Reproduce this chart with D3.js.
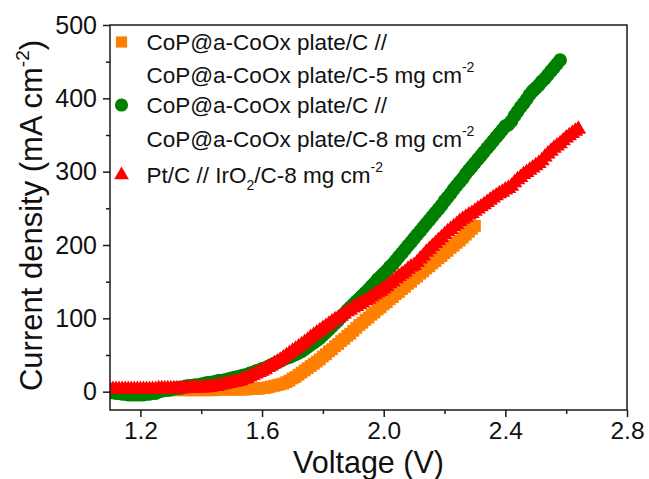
<!DOCTYPE html>
<html>
<head>
<meta charset="utf-8">
<script src="https://cdn.jsdelivr.net/npm/d3@7/dist/d3.min.js"></script>
<style>
  html, body { margin: 0; padding: 0; background: #fff; }
  svg { display: block; font-family: "Liberation Sans", Arial, sans-serif; }
</style>
</head>
<body>
<svg id="chart" width="649" height="479"></svg>
<script>
// ---- data ----
const voltage = [
  1.10,1.11,1.12,1.13,1.14,1.15,1.16,1.17,1.18,1.19,
  1.20,1.21,1.22,1.23,1.24,1.25,1.26,1.27,1.28,1.29,
  1.30,1.31,1.32,1.33,1.34,1.35,1.36,1.37,1.38,1.39,
  1.40,1.41,1.42,1.43,1.44,1.45,1.46,1.47,1.48,1.49,
  1.50,1.51,1.52,1.53,1.54,1.55,1.56,1.57,1.58,1.59,
  1.60,1.61,1.62,1.63,1.64,1.65,1.66,1.67,1.68,1.69,
  1.70,1.71,1.72,1.73,1.74,1.75,1.76,1.77,1.78,1.79,
  1.80,1.81,1.82,1.83,1.84,1.85,1.86,1.87,1.88,1.89,
  1.90,1.91,1.92,1.93,1.94,1.95,1.96,1.97,1.98,1.99,
  2.00,2.01,2.02,2.03,2.04,2.05,2.06,2.07,2.08,2.09,
  2.10,2.11,2.12,2.13,2.14,2.15,2.16,2.17,2.18,2.19,
  2.20,2.21,2.22,2.23,2.24,2.25,2.26,2.27,2.28,2.29,
  2.30,2.31,2.32,2.33,2.34,2.35,2.36,2.37,2.38,2.39,
  2.40,2.41,2.42,2.43,2.44,2.45,2.46,2.47,2.48,2.49,
  2.50,2.51,2.52,2.53,2.54,2.55,2.56,2.57,2.58,2.59,
  2.60,2.61,2.62,2.63,2.64
];
// CoP@a-CoOx plate/C // ... -5 mg cm-2 (orange squares), 1.10 – 2.30 V
const orangeVals = [
  2,2,2,2,2,2,2,2,2,2,
  2,2,2,2,2,2,2,2,2,2,
  2,2,2,2,2,2,2,2,2,2,
  2,2,2,2,2,3,3,3,3,3,
  3,3,3,3,3,3,4,4,4,4,
  5,5,6,7,8,9,10,11,13,15,
  18,20,23,26,29,32,35,38,41,44,
  48,51,55,58,62,65,69,72,76,79,
  83,87,91,94,98,101,105,108,112,115,
  119,122,126,129,133,136,140,143,147,150,
  154,157,161,164,168,171,175,178,182,185,
  189,192,196,199,203,206,210,214,218,222,
  226
];
// CoP@a-CoOx plate/C // ... -8 mg cm-2 (green circles), 1.10 – 2.58 V
const greenVals = [
  -1,-1,-2,-2,-3,-3,-4,-4,-4,-4,
  -4,-4,-3,-3,-2,-2,0,1,2,2,
  3,4,5,5,6,7,8,8,9,9,
  10,11,12,12,13,14,15,15,16,17,
  18,19,20,21,22,23,25,26,28,29,
  31,32,34,36,38,40,42,44,46,47,
  49,51,53,55,58,61,64,67,70,73,
  77,81,85,89,93,97,102,106,111,115,
  119,123,127,131,135,139,144,148,153,157,
  161,165,170,174,179,184,189,194,199,204,
  209,214,219,224,229,234,239,244,249,254,
  260,265,270,276,281,286,291,297,302,307,
  312,317,322,327,332,337,342,347,352,357,
  362,364,369,376,382,388,393,399,405,410,
  414,418,423,427,432,437,442,447,452
];
// Pt/C // IrO2/C-8 mg cm-2 (red triangles), 1.10 – 2.64 V
const redVals = [
  3,3,3,3,3,3,3,3,3,3,
  3,3,3,3,3,3,4,4,4,4,
  4,4,4,4,4,5,5,5,5,5,
  5,5,6,6,7,7,8,9,10,11,
  12,13,14,15,17,18,20,22,24,26,
  28,30,33,35,38,40,43,46,49,52,
  55,58,61,64,67,70,74,77,80,83,
  86,89,92,95,98,100,103,106,109,111,
  114,116,119,121,124,126,129,132,135,137,
  140,143,147,150,154,157,160,163,167,170,
  172,176,181,185,190,194,198,202,206,210,
  214,218,221,225,228,232,235,238,241,243,
  246,249,252,255,258,261,264,267,270,272,
  275,277,280,285,289,292,296,299,302,305,
  308,311,315,320,324,328,332,335,338,342,
  346,349,352,355,358
];
const xTicks = [1.2, 1.6, 2.0, 2.4, 2.8];
const xMinorTicks = [1.4, 1.8, 2.2, 2.6];
const yTicks = [0, 100, 200, 300, 400, 500];
const yMinorTicks = [50, 150, 250, 350, 450];

const seriesNames = ["orange", "green", "red"];

// ---- layout ----
const svg = d3.select("#chart");
const L = 110, R = 627, T = 25, B = 410;
const x = d3.scaleLinear().domain([1.1, 2.8]).range([L, R]);
const y = d3.scaleLinear().domain([-25, 500]).range([B, T]);

const styles = {
  orange: { color: "#FF8000", symbol: d3.symbolSquare, size: 140 },
  green:  { color: "#008000", symbol: d3.symbolCircle, size: 150 },
  red:    { color: "#FF0000", symbol: d3.symbolTriangle, size: 105 }
};
const valuesBy = { orange: orangeVals, green: greenVals, red: redVals };

svg.append("clipPath").attr("id", "clip")
  .append("rect").attr("x", L).attr("y", T).attr("width", R - L).attr("height", B - T);

const plot = svg.append("g").attr("clip-path", "url(#clip)");
seriesNames.forEach(name => {
  const st = styles[name];
  const pts = valuesBy[name].map((v, i) => [voltage[i], v]);
  const sym = d3.symbol().type(st.symbol).size(st.size);
  plot.append("g").selectAll("path").data(pts).join("path")
    .attr("d", sym)
    .attr("transform", d => `translate(${x(d[0])},${y(d[1])})`)
    .attr("fill", st.color);
});

// frame
const axisColor = "#1a1a1a";
svg.append("rect").attr("x", L).attr("y", T).attr("width", R - L).attr("height", B - T)
  .attr("fill", "none").attr("stroke", axisColor).attr("stroke-width", 1.5);

// axes
const xAxis = d3.axisBottom(x).tickValues(xTicks).tickFormat(d3.format(".1f"))
  .tickSize(7).tickPadding(5);
const gx = svg.append("g").attr("transform", `translate(0,${B})`).call(xAxis);
gx.select(".domain").remove();
gx.selectAll(".tick line").attr("stroke", axisColor).attr("stroke-width", 1.5);
gx.selectAll(".tick text").attr("font-size", 24.5).attr("fill", "#111")
  .attr("font-family", "Liberation Sans, Arial, sans-serif");
const xMinor = d3.axisBottom(x).tickValues(xMinorTicks).tickSize(4).tickFormat("");
const gxm = svg.append("g").attr("transform", `translate(0,${B})`).call(xMinor);
gxm.select(".domain").remove();
gxm.selectAll(".tick line").attr("stroke", axisColor).attr("stroke-width", 1.5);

const yAxis = d3.axisLeft(y).tickValues(yTicks).tickSize(7).tickPadding(6);
const gy = svg.append("g").attr("transform", `translate(${L},0)`).call(yAxis);
gy.select(".domain").remove();
gy.selectAll(".tick line").attr("stroke", axisColor).attr("stroke-width", 1.5);
gy.selectAll(".tick text").attr("font-size", 25).attr("fill", "#111")
  .attr("font-family", "Liberation Sans, Arial, sans-serif");
const yMinor = d3.axisLeft(y).tickValues(yMinorTicks).tickSize(4).tickFormat("");
const gym = svg.append("g").attr("transform", `translate(${L},0)`).call(yMinor);
gym.select(".domain").remove();
gym.selectAll(".tick line").attr("stroke", axisColor).attr("stroke-width", 1.5);

// axis titles
svg.append("text").attr("x", (L + R) / 2).attr("y", 473)
  .attr("text-anchor", "middle").attr("font-size", 30.5).attr("fill", "#111")
  .text("Voltage (V)");

const yt = svg.append("text")
  .attr("transform", `translate(42,${(T + B) / 2 - 2}) rotate(-90)`)
  .attr("text-anchor", "middle").attr("font-size", 31).attr("fill", "#111");
yt.append("tspan").text("Current density (mA cm");
yt.append("tspan").attr("font-size", 19).attr("dy", -13).text("-2");
yt.append("tspan").attr("dy", 13).text(")");

// legend
const legendRows = [
  { series: "orange", y: 50, parts: [["CoP@a-CoOx plate/C //", 0]] },
  { series: null, y: 83, parts: [["CoP@a-CoOx plate/C-5 mg cm", 0], ["-2", -1]] },
  { series: "green", y: 113, parts: [["CoP@a-CoOx plate/C //", 0]] },
  { series: null, y: 147, parts: [["CoP@a-CoOx plate/C-8 mg cm", 0], ["-2", -1]] },
  { series: "red", y: 183, parts: [["Pt/C // IrO", 0], ["2", 1], ["/C-8 mg cm", 0], ["-2", -1]] }
];
const lg = svg.append("g");
legendRows.forEach(row => {
  if (row.series) {
    const st = styles[row.series];
    lg.append("path")
      .attr("d", d3.symbol().type(st.symbol).size(st.size * 0.9)())
      .attr("transform", `translate(121.5,${row.y - 8})`)
      .attr("fill", st.color);
  }
  const t = lg.append("text").attr("x", 146.5).attr("y", row.y)
    .attr("font-size", 22.5).attr("fill", "#111");
  let cur = 0;
  row.parts.forEach(([s, kind]) => {
    const target = kind === -1 ? -11 : kind === 1 ? 7 : 0;
    const tsp = t.append("tspan").attr("dy", target - cur).text(s);
    if (kind !== 0) tsp.attr("font-size", 14);
    cur = target;
  });
});
</script>
</body>
</html>
